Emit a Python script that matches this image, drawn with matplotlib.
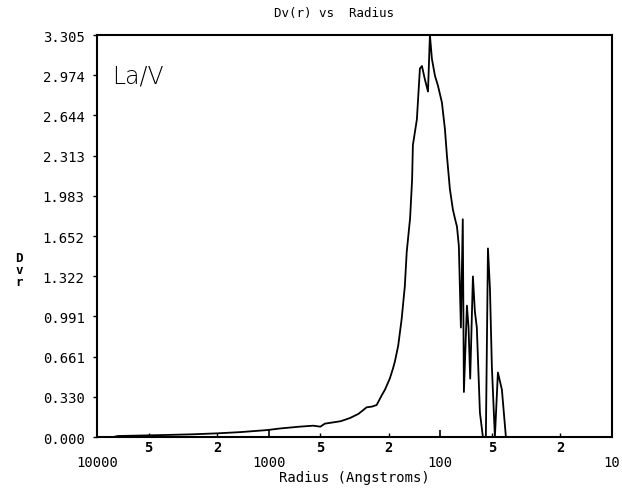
import matplotlib
matplotlib.use('Agg')
import matplotlib.pyplot as plt
from matplotlib.ticker import FixedLocator, NullFormatter

# radius in Angstroms and volume distribution Dv(r)
radius = [8000, 7600, 5600, 3900, 2800, 2000, 1470, 1020, 860, 660,
          550, 500, 470, 422, 380, 336, 300, 282, 269, 250,
          235, 220, 210, 197, 189, 184, 176, 168, 161, 157,
          150, 146, 144.5, 137, 131.5, 128, 123, 118, 115, 112,
          107.5, 103.3, 97.9, 94, 91.5, 88, 84.5, 82, 80, 78,
          75.9, 74, 72.9, 70, 68.5, 67, 64.6, 62.9, 61.3, 58.8,
          56.5, 54.3, 52.8, 51.4, 50.1, 48.1, 46.2, 43.8, 41.5, 10]
dv = [0, 0.008, 0.012, 0.017, 0.022, 0.03, 0.04, 0.057, 0.07, 0.085,
      0.093, 0.085, 0.11, 0.12, 0.13, 0.156, 0.19, 0.22, 0.244, 0.25,
      0.263, 0.34, 0.39, 0.48, 0.56, 0.62, 0.75, 0.97, 1.24, 1.52,
      1.8, 2.12, 2.4, 2.61, 3.03, 3.05, 2.94, 2.84, 3.305, 3.11,
      2.97, 2.89, 2.75, 2.53, 2.31, 2.04, 1.87, 1.79, 1.73, 1.57,
      0.9, 1.79, 0.37, 1.08, 0.9, 0.48, 1.32, 1.03, 0.9, 0.2,
      0.0, 0.0, 1.55, 1.22, 0.58, 0.0, 0.53, 0.39, 0.0, 0.0]

y_ticks = [0.000, 0.330, 0.661, 0.991, 1.322, 1.652, 1.983, 2.313, 2.644, 2.974, 3.305]
x_major = [10000, 1000, 100, 10]
x_minor = [5000, 2000, 500, 200, 50, 20]

mono = 'DejaVu Sans Mono'

fig = plt.figure(figsize=(6.22, 4.89), dpi=100)
ax = fig.add_axes([97 / 622, 1 - 438 / 489, 515 / 622, 402 / 489])

ax.plot(radius, dv, color='black', lw=1.3)

ax.set_xscale('log')
ax.set_xlim(10000, 10)
ax.set_ylim(0, 3.305)

ax.xaxis.set_major_locator(FixedLocator(x_major))
ax.xaxis.set_minor_locator(FixedLocator(x_minor))
ax.set_xticklabels([str(v) for v in x_major], fontfamily=mono, fontsize=10)
ax.xaxis.set_minor_formatter(NullFormatter())
ax.tick_params(axis='x', which='major', direction='in', length=5, width=1.2, pad=13)
ax.tick_params(axis='x', which='minor', direction='in', length=3, width=1.0)
for v in x_minor:
    ax.text(v, -0.008, str(v)[0], transform=ax.get_xaxis_transform(),
            ha='center', va='top', fontfamily=mono, fontsize=10, fontweight='bold')

ax.set_yticks(y_ticks)
ax.set_yticklabels([f'{v:.3f}' for v in y_ticks], fontfamily=mono, fontsize=10)
ax.tick_params(axis='y', direction='out', length=3, width=1.0, pad=6)

for s in ax.spines.values():
    s.set_linewidth(1.5)

fig.text(354 / 622, 1 - 478 / 489, 'Radius (Angstroms)', ha='center', va='center',
         fontfamily=mono, fontsize=10)
fig.text(334 / 622, 1 - 14 / 489, 'Dv(r) vs  Radius', ha='center', va='center',
         fontfamily=mono, fontsize=9)
fig.text(19 / 622, 1 - 270 / 489, 'D\nv\nr', ha='center', va='center',
         fontfamily=mono, fontsize=9, fontweight='bold', linespacing=0.9)
ax.text(0.03, 0.93, 'La/V', transform=ax.transAxes, ha='left', va='top',
        fontsize=17, fontweight='light')

fig.savefig('out.png', dpi=100)
plt.close(fig)
